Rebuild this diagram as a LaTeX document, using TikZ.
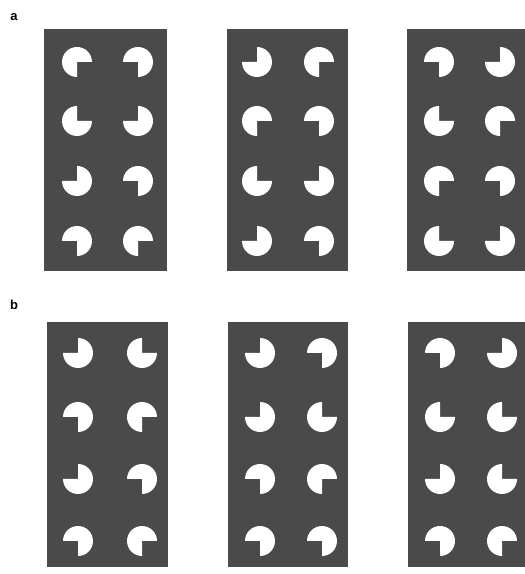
\documentclass[tikz,border=0pt]{standalone}
\usepackage{fontspec}
\setmainfont{Liberation Sans}
\definecolor{panel}{HTML}{4A4A4A}
\tikzset{
  pac/.pic={\fill[white] (0,0) -- (#1+90:15) arc[start angle=#1+90, delta angle=270, radius=15] -- cycle;},
  lbl/.style={font=\bfseries\fontsize{13}{13}\selectfont, inner sep=0pt}
}
% notch angles: NE=0, NW=90, SW=180, SE=270
\begin{document}
\begin{tikzpicture}[x=1pt,y=1pt]
\useasboundingbox (0,0) rectangle (525,574);
\clip (0,0) rectangle (525,574);
\fill[white] (0,0) rectangle (525,574);
\node[lbl] (la) at (14,557) {a};
\node[lbl] (lb) at (14,269) {b};
% panels row a (image y 29..271) -> tikz 303..545
\fill[panel] (44,303) rectangle (167,545);
\fill[panel] (227,303) rectangle (348,545);
\fill[panel] (407,303) rectangle (530,545);
% panels row b (image y 322..567) -> tikz 7..252
\fill[panel] (47,7) rectangle (168,252);
\fill[panel] (228,7) rectangle (348,252);
\fill[panel] (408,7) rectangle (530,252);
% row a pacmen: y image 62,121,181,241 -> 512,453,393,333
\foreach \xl/\xr/\angs in {77/138/{270,180,0,90,90,180,180,270},
                          257/319/{90,270,270,180,0,90,90,180},
                          439/500/{180,90,0,270,270,180,0,90}}{
  \foreach \yy [count=\i] in {512,453,393,333}{
    \pgfmathtruncatemacro{\il}{2*\i-1}
    \pgfmathtruncatemacro{\ir}{2*\i}
    \pgfmathparse{{\angs}[\il-1]}\let\al\pgfmathresult
    \pgfmathparse{{\angs}[\ir-1]}\let\ar\pgfmathresult
    \pic at (\xl,\yy) {pac=\al};
    \pic at (\xr,\yy) {pac=\ar};
  }
}
% row b pacmen: y image 353,417,479,541 -> 221,157,95,33
\foreach \xl/\xr/\angs in {78/142/{90,0,180,270,90,180,180,270},
                          260/322/{90,180,90,0,180,270,180,180},
                          440/502/{180,90,0,0,90,0,180,270}}{
  \foreach \yy [count=\i] in {221,157,95,33}{
    \pgfmathtruncatemacro{\il}{2*\i-1}
    \pgfmathtruncatemacro{\ir}{2*\i}
    \pgfmathparse{{\angs}[\il-1]}\let\al\pgfmathresult
    \pgfmathparse{{\angs}[\ir-1]}\let\ar\pgfmathresult
    \pic at (\xl,\yy) {pac=\al};
    \pic at (\xr,\yy) {pac=\ar};
  }
}
\end{tikzpicture}
\end{document}
